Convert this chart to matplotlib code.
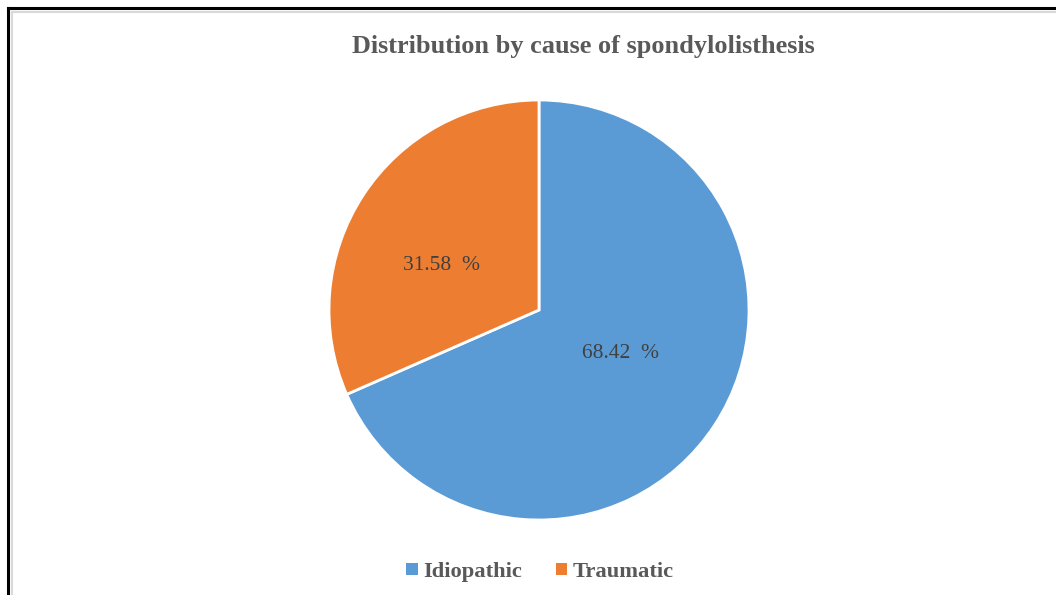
import matplotlib
matplotlib.use("Agg")
import matplotlib.pyplot as plt
from matplotlib.lines import Line2D
from matplotlib.patches import Patch

categories = ["Idiopathic", "Traumatic"]
shares = [68.42, 31.58]
colors = ["#5B9BD5", "#ED7D31"]
title = "Distribution by cause of spondylolisthesis"

W, H = 1056, 595
fig = plt.figure(figsize=(W / 100, H / 100), dpi=100)
fig.patch.set_facecolor("white")

serif = ["Liberation Serif", "DejaVu Serif"]


def px(x, y):
    return x / W, 1 - y / H


# Frame around the chart area (outer dark rule, inner light rule)
x0, y0 = px(7.5, 7.5)
fig.add_artist(Line2D([x0, x0], [y0, 0], color="black", lw=2.2, transform=fig.transFigure))
fig.add_artist(Line2D([x0, 1], [y0, y0], color="black", lw=2.2, transform=fig.transFigure))
x1, y1 = px(11.5, 11.5)
fig.add_artist(Line2D([x1, x1], [y1, 0], color="#d9d9d9", lw=1.5, transform=fig.transFigure))
fig.add_artist(Line2D([x1, 1], [y1, y1], color="#d9d9d9", lw=1.5, transform=fig.transFigure))

# Pie axes
cx, cy, r = 539, 310, 210
ax = fig.add_axes([(cx - r) / W, (H - cy - r) / H, 2 * r / W, 2 * r / H])
wedges, texts, autotexts = ax.pie(
    shares,
    colors=colors,
    startangle=90,
    counterclock=False,
    autopct=lambda p: f"{p:.2f}  %",
    pctdistance=0.5,
    wedgeprops=dict(edgecolor="white", linewidth=2),
    textprops=dict(color="#404040", fontsize=15.5, family=serif),
)
# Nudge the percentage labels to their spots inside each slice
label_offsets = [(0.386, -0.205), (-0.462, 0.214)]
for t, (lx, ly) in zip(autotexts, label_offsets):
    t.set_position((lx, ly))
ax.set_xlim(-1, 1)
ax.set_ylim(-1, 1)
ax.set_aspect("equal")
ax.axis("off")

fig.text(0.5 * (352 + 815) / W, 1 - 46 / H, title, ha="center", va="center",
         fontsize=18.9, fontweight="bold", color="#595959", family=serif)

handles = [Patch(facecolor=c, edgecolor="none") for c in colors]
fig.legend(handles, categories, loc="center", bbox_to_anchor=(540 / W, 1 - 572 / H),
           ncol=2, frameon=False, handlelength=0.5, handleheight=0.5,
           columnspacing=1.5, handletextpad=0.25,
           prop=dict(family=serif, weight="bold", size=16.2),
           labelcolor="#595959")

fig.savefig("out.png", dpi=100, facecolor="white")
